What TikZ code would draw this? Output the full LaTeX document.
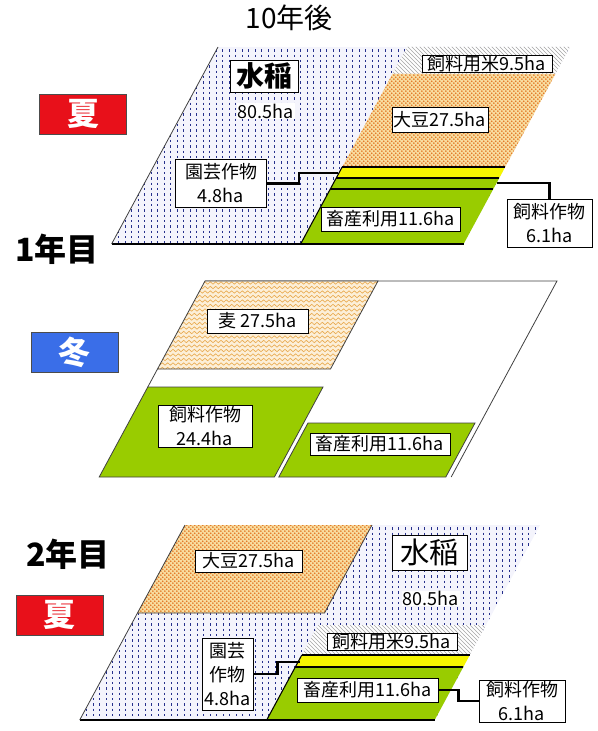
\documentclass[tikz,border=0pt]{standalone}
\usepackage{fontspec}
\setmainfont{Noto Sans CJK JP}
\usetikzlibrary{patterns,decorations.pathmorphing}
\definecolor{natsured}{HTML}{E8101A}
\definecolor{fuyublue}{HTML}{3A6EE8}
\definecolor{grn}{HTML}{99CC00}
\definecolor{yel}{HTML}{F5F500}
\definecolor{bluebg}{HTML}{F4F4FC}
\definecolor{bluedot}{HTML}{26308C}
\definecolor{daizubg}{HTML}{F8DDA0}
\definecolor{daizudot}{HTML}{E2701E}
\definecolor{mugibg}{HTML}{FCEFD8}
\definecolor{mugiline}{HTML}{E8A84A}
\pgfdeclarepatternformonly{beandots}{\pgfpointorigin}{\pgfpoint{3.2pt}{3.2pt}}{\pgfpoint{3.2pt}{3.2pt}}{%
  \pgfpathcircle{\pgfpoint{0.8pt}{0.8pt}}{0.8pt}%
  \pgfpathcircle{\pgfpoint{2.4pt}{2.4pt}}{0.8pt}%
  \pgfusepath{fill}}
\begin{document}
\begin{tikzpicture}[x=0.75pt,y=-0.75pt,
  lbl/.style={draw=black, fill=white, line width=0.7pt, inner sep=0pt, align=center,
    font=\fontsize{13.5}{18}\selectfont},
  season/.style={draw=black!70, line width=0.6pt, inner sep=0pt, text=white,
    font=\fontsize{24}{26}\selectfont\bfseries, minimum width=65.25pt, minimum height=30pt},
  yeartxt/.style={inner sep=0pt, font=\fontsize{24}{26}\selectfont\bfseries},
  hatxt/.style={fill=white, inner sep=0.5pt, font=\fontsize{13.5}{15}\selectfont},
  conn/.style={draw=black, line width=2.2pt},
  edge/.style={draw=black, line width=0.8pt},
  outline/.style={draw=black!75, line width=0.6pt},
  bluedash/.style={draw=bluedot, line width=0.6pt, dash pattern=on 1.8pt off 2.2pt},
  mugiwave/.style={draw=mugiline, line width=0.45pt, decorate,
    decoration={snake, amplitude=0.9pt, segment length=4pt}},
  hatch/.style={pattern=north west lines, pattern color=gray!70},
  dots/.style={pattern=beandots, pattern color=daizudot}
]
\useasboundingbox (0,0) rectangle (597,731);

% ================= TOP: 10年後 (summer) =================
\node[inner sep=0pt, font=\fontsize{21}{23}\selectfont] (title) at (289,18) {10年後};
\node[season, fill=natsured] (natsu1) at (83,114) {夏};

\begin{scope}
  \clip (218,47) -- (570,47) -- (463.6,244) -- (111.6,244) -- cycle;
  \fill[bluebg] (100,40) rectangle (580,250);
  \foreach \x in {112,118.5,...,570} \draw[bluedash] (\x,44) -- (\x,250);
\end{scope}
% 飼料用米
\fill[white] (407,47) -- (570,47) -- (555.4,74) -- (392.4,74) -- cycle;
\fill[hatch] (407,47) -- (570,47) -- (555.4,74) -- (392.4,74) -- cycle;
% 大豆
\fill[daizubg] (392.4,74) -- (555.4,74) -- (505.2,167) -- (342.2,167) -- cycle;
\fill[dots] (392.4,74) -- (555.4,74) -- (505.2,167) -- (342.2,167) -- cycle;
% yellow (園芸)
\fill[yel] (342.2,167) -- (505.2,167) -- (499.3,178) -- (336.3,178) -- cycle;
% thin green (飼料作物)
\fill[grn] (336.3,178) -- (499.3,178) -- (493.3,189) -- (330.3,189) -- cycle;
% 畜産
\fill[grn] (330.3,189) -- (493.3,189) -- (463.6,244) -- (300.6,244) -- cycle;
\draw[edge] (342.2,167) -- (505.2,167);
\draw[edge] (336.3,178) -- (499.3,178);
\draw[edge] (330.3,189) -- (493.3,189);
\draw[edge] (342.2,167) -- (300.6,244);
\draw[edge] (111.6,244) -- (463.6,244);
\draw[outline] (218,47) -- (111.6,244);

\node[lbl, font=\fontsize{21}{23}\selectfont\bfseries, minimum width=51pt, minimum height=24pt] (suito1) at (264,76) {水稲};
\node[hatxt] (ha1) at (266,111) {80.5ha};
\node[lbl, minimum width=68.25pt, minimum height=36pt] (engei1) at (221,183.5) {園芸作物\\4.8ha};
\node[lbl, minimum width=97.5pt, minimum height=12.75pt] (mai1) at (487,63.5) {飼料用米9.5ha};
\node[lbl, minimum width=72pt, minimum height=18.75pt] (daizu1) at (440,119.5) {大豆27.5ha};
\node[lbl, minimum width=104.25pt, minimum height=18pt] (chiku1) at (390.5,219) {畜産利用11.6ha};
\node[lbl, minimum width=63.75pt, minimum height=36pt] (shiryo1) at (549.5,223) {飼料作物\\6.1ha};
\node[yeartxt] (year1) at (57,249) {1年目};

\coordinate (ey1) at (338,173);
\coordinate (gr1) at (497,183);
\draw[conn] (engei1.east) -- ++(32,0) |- (ey1);
\draw[conn] (gr1) -| (shiryo1.north);

% ================= MIDDLE: winter =================
\node[season, fill=fuyublue] (fuyu) at (74.5,352.5) {冬};
\fill[white] (205,281) -- (557,281) -- (451.2,477) -- (99.2,477) -- cycle;
\draw[outline] (205,281) -- (557,281) -- (451.2,477);
\draw[outline] (157.5,369) -- (147.8,387);
\begin{scope}
  \clip (205,281) -- (378,281) -- (330.5,369) -- (157.5,369) -- cycle;
  \fill[mugibg] (150,275) rectangle (390,375);
  \foreach \y in {283,287.5,...,370} \draw[mugiwave] (150,\y) -- (390,\y);
\end{scope}
\draw[outline] (205,281) -- (378,281) -- (330.5,369) -- (157.5,369) -- cycle;
\fill[grn] (147.8,387) -- (323,387) -- (274.4,477) -- (99.2,477) -- cycle;
\draw[outline] (147.8,387) -- (323,387) -- (274.4,477) -- (99.2,477) -- cycle;
\fill[grn] (308,423) -- (475,423) -- (445.8,477) -- (278.8,477) -- cycle;
\draw[outline] (308,423) -- (475,423) -- (445.8,477) -- (278.8,477) -- cycle;

\node[lbl, minimum width=75.75pt, minimum height=18pt] (mugi) at (257.5,321) {麦 27.5ha};
\node[lbl, minimum width=70.5pt, minimum height=31.5pt] (shiryo2) at (205,426) {飼料作物\\24.4ha};
\node[lbl, minimum width=105pt, minimum height=16.5pt] (chiku2) at (380,444) {畜産利用11.6ha};

% ================= BOTTOM: 2年目 (summer) =================
\node[yeartxt] (year2) at (68,554) {2年目};
\node[season, fill=natsured] (natsu2) at (59.5,615) {夏};

\begin{scope}
  \clip (185,525) -- (540,525) -- (434.7,720) -- (79.7,720) -- cycle;
  \fill[bluebg] (70,518) rectangle (550,725);
  \foreach \x in {80,86.5,...,540} \draw[bluedash] (\x,522) -- (\x,725);
\end{scope}
% 大豆
\fill[daizubg] (185,525) -- (372,525) -- (324.5,613) -- (137.5,613) -- cycle;
\fill[dots] (185,525) -- (372,525) -- (324.5,613) -- (137.5,613) -- cycle;
\draw[outline] (372,525) -- (324.5,613) -- (137.5,613);
% 飼料用米
\fill[white] (318,625) -- (486,625) -- (469.8,655) -- (301.8,655) -- cycle;
\fill[hatch] (318,625) -- (486,625) -- (469.8,655) -- (301.8,655) -- cycle;
% yellow
\fill[yel] (301.8,655) -- (469.8,655) -- (463.3,667) -- (295.3,667) -- cycle;
% green
\fill[grn] (295.3,667) -- (463.3,667) -- (434.7,720) -- (266.7,720) -- cycle;
\draw[edge] (301.8,655) -- (469.8,655);
\draw[edge] (295.3,667) -- (463.3,667);
\draw[edge] (301.8,655) -- (266.7,720);
\draw[edge] (79.7,720) -- (434.7,720);
\draw[outline] (185,525) -- (79.7,720);

\node[lbl, font=\fontsize{22}{24}\selectfont, minimum width=56.25pt, minimum height=26.25pt] (suito2) at (429.5,552.5) {水稲};
\node[hatxt] (ha2) at (431,598.5) {80.5ha};
\node[lbl, minimum width=80.25pt, minimum height=16.5pt] (daizu2) at (248.5,561) {大豆27.5ha};
\node[lbl, minimum width=97.5pt, minimum height=12.75pt] (mai2) at (392,641.5) {飼料用米9.5ha};
\node[lbl, minimum width=105.75pt, minimum height=18pt] (chiku3) at (367.5,690) {畜産利用11.6ha};
\node[lbl, minimum width=64.5pt, minimum height=31.5pt] (shiryo3) at (522,701) {飼料作物\\6.1ha};
\node[lbl, minimum width=38.25pt, minimum height=54pt] (engei2) at (227.5,674) {園芸\\作物\\4.8ha};

\coordinate (ey2) at (300,662);
\draw[conn] (chiku3.east) -- ++(20,0) |- (shiryo3.west);
\draw[conn] (engei2.east) -- ++(24,0) |- (ey2);
\end{tikzpicture}
\end{document}
